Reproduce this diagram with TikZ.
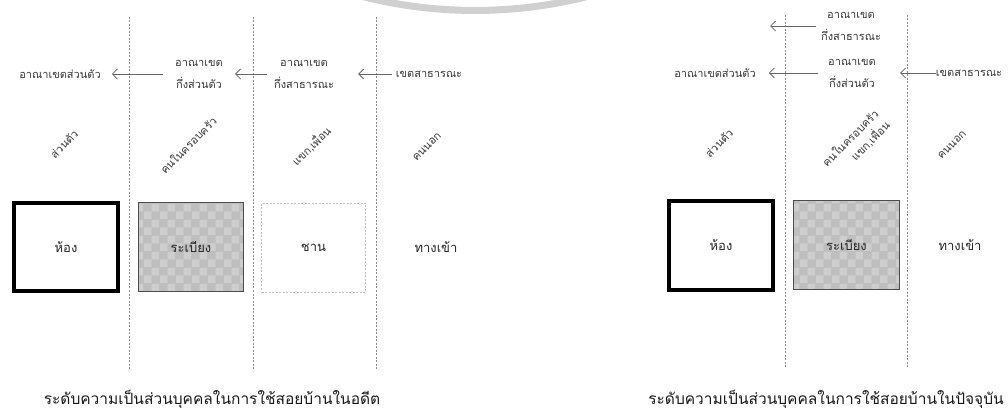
\documentclass[tikz,border=0pt]{standalone}
\usepackage{fontspec}
\newfontfamily\thaifont[Script=Thai]{Loma}
\usepackage{tikz}
\usetikzlibrary{arrows.meta, positioning, patterns.meta}

\definecolor{inkgray}{RGB}{55,55,55}
\definecolor{checkdark}{RGB}{190,190,190}
\definecolor{checklight}{RGB}{206,206,206}
\definecolor{ringgray}{RGB}{208,208,208}

\tikzdeclarepattern{
  name=checks,
  type=uncolored,
  bottom left={(0pt,0pt)},
  top right={(16pt,16pt)},
  tile size={(16pt,16pt)},
  code={
    \fill (0pt,0pt) rectangle (8pt,8pt);
    \fill (8pt,8pt) rectangle (16pt,16pt);
  }
}

\begin{document}
\begin{tikzpicture}[
  x=1pt, y=-1pt,
  zone/.style={font=\thaifont\fontsize{11}{22}\selectfont, text=inkgray, align=center, inner sep=0pt},
  who/.style={font=\thaifont\fontsize{11}{16}\selectfont, text=inkgray, rotate=45, align=right, inner sep=0pt},
  place/.style={font=\thaifont\fontsize{13}{15}\selectfont, text=black!85, inner sep=0pt},
  room/.style={place, draw=black, line width=3.5pt, minimum width=104pt, minimum height=88pt},
  porch/.style={place, draw=black!70, line width=1.2pt, preaction={fill=checkdark}, pattern=checks, pattern color=checklight, minimum width=105pt, minimum height=89pt},
  deck/.style={place, draw=black!25, line width=0.8pt, dash pattern=on 2pt off 1.5pt, minimum width=104pt, minimum height=89pt},
  caption/.style={font=\thaifont\fontsize{15.5}{18}\selectfont, text=black!90, inner sep=0pt},
  divider/.style={draw=black!45, line width=0.7pt, dash pattern=on 2pt off 1.5pt},
  arrow/.style={-{Straight Barb[length=5pt,width=10pt]}, draw=black!60, line width=0.8pt}
]
  \useasboundingbox (0,0) rectangle (1008,411);

  % ring of the page behind
  \draw[ringgray, line width=7pt] (594,-5.2) arc[start angle=75, end angle=105, radius=460];

  % ---- in the past ----
  \draw[divider] (129,17) -- (129,370);
  \draw[divider] (253,17) -- (253,370);
  \draw[divider] (376,17) -- (376,370);

  \node[zone] (priv) at (60,74) {อาณาเขตส่วนตัว};
  \node[zone] (semipriv) at (199,74) {อาณาเขต\\กึ่งส่วนตัว};
  \node[zone] (semipub) at (304,74) {อาณาเขต\\กึ่งสาธารณะ};
  \node[zone] (pub) at (429,74) {เขตสาธารณะ};

  \draw[arrow, shorten <=12pt, shorten >=11pt] (semipriv.west) -- (priv.east);
  \draw[arrow, shorten <=7pt, shorten >=12pt] (semipub.west) -- (semipriv.east);
  \draw[arrow, shorten <=4pt, shorten >=24pt] (pub.west) -- (semipub.east);

  \node[who] (self) at (64,144) {ส่วนตัว};
  \node[who] (family) at (188,145) {คนในครอบครัว};
  \node[who] (guest) at (311,146) {แขก,เพื่อน};
  \node[who] (outsider) at (427,147) {คนนอก};

  \node[room] (room) at (66,247) {ห้อง};
  \node[porch] (porch) at (191,247) {ระเบียง};
  \node[deck] (deck) at (313.5,248) {ชาน};
  \node[place] (entry) at (436,247) {ทางเข้า};

  \node[caption] (past) at (212,399) {ระดับความเป็นส่วนบุคคลในการใช้สอยบ้านในอดีต};

  % ---- nowadays ----
  \draw[divider] (785,15) -- (785,368);
  \draw[divider] (907,15) -- (907,368);

  \node[zone] (semipubnow) at (851,26) {อาณาเขต\\กึ่งสาธารณะ};
  \coordinate (semipubtip) at (770,26);
  \node[zone] (privnow) at (715,73) {อาณาเขตส่วนตัว};
  \node[zone] (semiprivnow) at (852,73) {อาณาเขต\\กึ่งส่วนตัว};
  \node[zone] (pubnow) at (969,73) {เขตสาธารณะ};

  \draw[arrow, shorten <=5pt] (semipubnow.west) -- (semipubtip);
  \draw[arrow, shorten <=10pt, shorten >=13pt] (semiprivnow.west) -- (privnow.east);
  \draw[arrow, shorten >=24pt] (pubnow.west) -- (semiprivnow.east);

  \node[who] (selfnow) at (719,143) {ส่วนตัว};
  \node[who] (familynow) at (856,144) {คนในครอบครัว\\แขก,เพื่อน};
  \node[who] (outsidernow) at (952,145) {คนนอก};

  \node[room, minimum height=89pt] (roomnow) at (721,245.5) {ห้อง};
  \node[porch, minimum width=106pt] (porchnow) at (846.5,245) {ระเบียง};
  \node[place] (entrynow) at (960,245) {ทางเข้า};

  \node[caption] (present) at (826,399) {ระดับความเป็นส่วนบุคคลในการใช้สอยบ้านในปัจจุบัน};
\end{tikzpicture}
\end{document}
